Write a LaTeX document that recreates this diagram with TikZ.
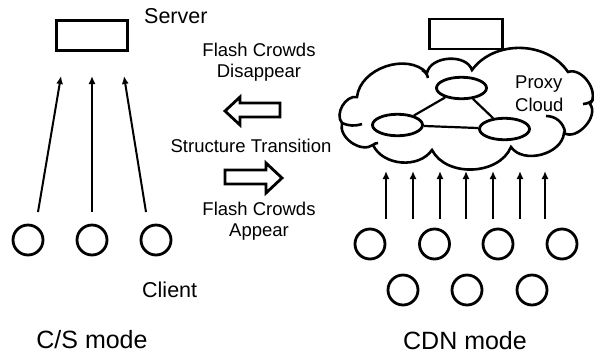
\documentclass[tikz,border=0pt]{standalone}
\usepackage{fontspec}
\setmainfont{Liberation Sans}
\usepackage{tikz}
\usetikzlibrary{arrows.meta,shapes.geometric}

\begin{document}
\begin{tikzpicture}[x=1pt, y=-1pt,
		box/.style={draw, line width=2.8pt, rectangle, minimum width=71pt, minimum height=30pt, inner sep=0pt},
		host/.style={draw, line width=2.8pt, circle, minimum size=30pt, inner sep=0pt},
		proxy/.style={draw, line width=2.8pt, ellipse, minimum width=50pt, minimum height=21.5pt, inner sep=0pt},
		req/.style={-{Latex[length=8pt,width=7pt]}, line width=2pt},
		blk/.style={draw, line width=2.8pt, line join=miter},
		lbl/.style={font=\fontsize{18.5}{22}\selectfont, inner sep=0pt, anchor=base},
		big/.style={font=\fontsize{21.5}{26}\selectfont, inner sep=0pt, anchor=base west},
		mode/.style={font=\fontsize{25}{30}\selectfont, inner sep=0pt, anchor=base}]
	\useasboundingbox (0,0) rectangle (594,354);

	% C/S side
	\node[box] (srv) at (92,35.5) {};
	\node[big] (srvlbl) at (144,23) {Server};
	\node[host] (c1) at (28,240) {};
	\node[host] (c2) at (92,240) {};
	\node[host] (c3) at (156,240) {};
	\node[big] (clilbl) at (142,297) {Client};
	\node[mode] (cslbl) at (92,348) {C/S mode};
	\coordinate (c1o) at (38,212);
	\coordinate (c2o) at (92,212);
	\coordinate (c3o) at (146,212);
	\coordinate (s1i) at (61,76);
	\coordinate (s2i) at (92,76);
	\coordinate (s3i) at (124,76);
	\draw[req] (c1o) -- (s1i);
	\draw[req] (c2o) -- (s2i);
	\draw[req] (c3o) -- (s3i);

	% transition
	\node[lbl] (dis1) at (259,56) {Flash Crowds};
	\node[lbl] (dis2) at (259,77) {Disappear};
	\draw[blk] (225,111) -- (240,97) -- (240,103) -- (280,103) -- (280,117) -- (240,117) -- (240,125) -- cycle;
	\node[lbl] (trans) at (251,152) {Structure Transition};
	\draw[blk] (282,178) -- (266,163) -- (266,170) -- (225,170) -- (225,184) -- (266,184) -- (266,193) -- cycle;
	\node[lbl] (app1) at (259,215) {Flash Crowds};
	\node[lbl] (app2) at (259,236) {Appear};

	% CDN side
	\node[box, minimum width=73pt] (csrv) at (466,34) {};
	\draw[line width=2.6pt] (342,123) to[bend left=70] (357,97)
		to[bend left=65] (427,73) to[bend left=75] (472,70)
		to[bend left=55] (568,72) to[bend left=75] (590,104)
		to[bend left=80] (564,133) to[bend left=70] (511,147)
		to[bend left=65] (432,150) to[bend left=60] (373,145)
		to[bend left=70] cycle;
	% inner folds of the cloud
	\draw[line width=2.6pt] (342,123) to[bend right=20] (362,124);
	\draw[line width=2.6pt] (422,70) to[bend left=25] (428,78);
	\draw[line width=2.6pt] (583,104) to[bend right=20] (594,99);
	\draw[line width=2.6pt] (546,116) to[bend left=40] (565,132);
	\draw[line width=2.6pt] (373,145) to[bend left=20] (378,143);
	\node[proxy] (p1) at (461.5,88) {};
	\node[proxy] (p2) at (397.5,125) {};
	\node[proxy] (p3) at (504.5,129) {};
	\draw[line width=2.2pt] (p1) -- (p2);
	\draw[line width=2.2pt] (p1) -- (p3);
	\draw[line width=2.2pt] (p2) -- (p3);
	\node[lbl, anchor=base west] (pxy1) at (515,88) {Proxy};
	\node[lbl, anchor=base west] (pxy2) at (515,111) {Cloud};

	\node[host] (d1) at (370,244) {};
	\node[host] (d2) at (434.5,244) {};
	\node[host] (d3) at (498,244) {};
	\node[host] (d4) at (562,244) {};
	\node[host] (d5) at (403,290) {};
	\node[host] (d6) at (467,290) {};
	\node[host] (d7) at (532,290) {};
	\coordinate (u1) at (386,219);  \coordinate (v1) at (386,171);
	\coordinate (u2) at (413,219);  \coordinate (v2) at (413,171);
	\coordinate (u3) at (440,219);  \coordinate (v3) at (440,171);
	\coordinate (u4) at (466,219);  \coordinate (v4) at (466,171);
	\coordinate (u5) at (493,219);  \coordinate (v5) at (493,171);
	\coordinate (u6) at (520,219);  \coordinate (v6) at (520,171);
	\coordinate (u7) at (545,219);  \coordinate (v7) at (545,171);
	\draw[req] (u1) -- (v1);
	\draw[req] (u2) -- (v2);
	\draw[req] (u3) -- (v3);
	\draw[req] (u4) -- (v4);
	\draw[req] (u5) -- (v5);
	\draw[req] (u6) -- (v6);
	\draw[req] (u7) -- (v7);
	\node[mode] (cdnlbl) at (465,349) {CDN mode};
\end{tikzpicture}
\end{document}
